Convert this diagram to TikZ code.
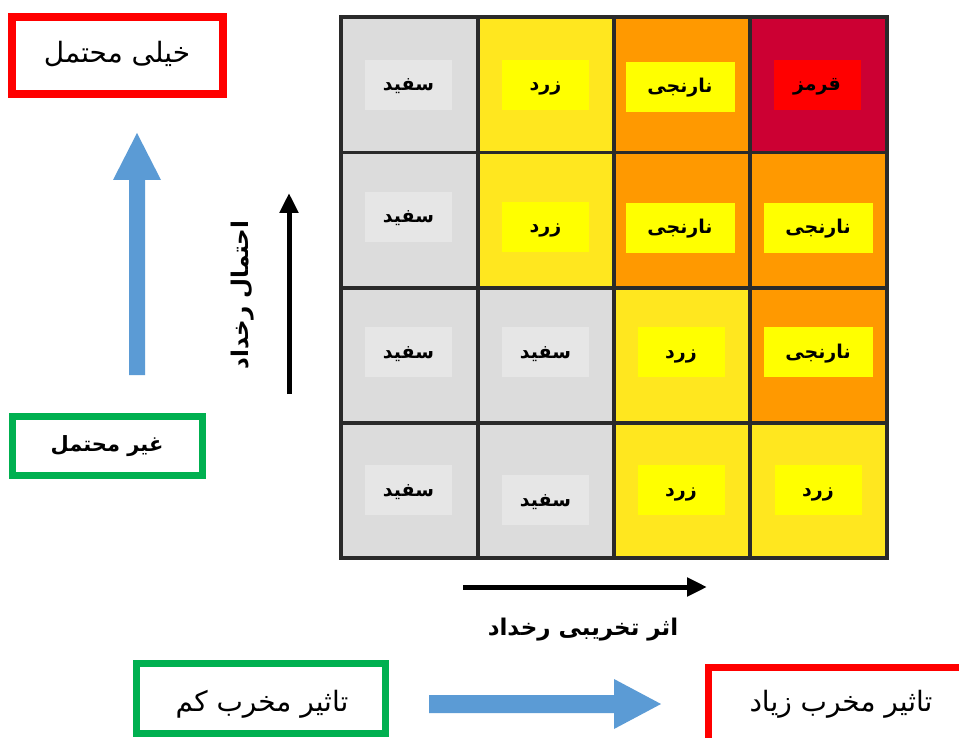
\documentclass[tikz,border=0pt]{standalone}
\usepackage{fontspec}
\newfontfamily\ar[Script=Arabic]{DejaVu Sans}
\TeXXeTstate=1
\usetikzlibrary{arrows.meta}
\definecolor{gridc}{HTML}{2A2A2A}
\definecolor{cgrey}{HTML}{DCDCDC}
\definecolor{lgrey}{HTML}{E6E6E6}
\definecolor{cyel}{HTML}{FFE71F}
\definecolor{lyel}{HTML}{FFFF00}
\definecolor{corg}{HTML}{FF9900}
\definecolor{cred}{HTML}{CC0033}
\definecolor{lred}{HTML}{FF0000}
\definecolor{bblue}{HTML}{5B9BD5}
\definecolor{bgreen}{HTML}{00B050}
\newcommand{\fa}[1]{\beginR #1\endR}
\begin{document}
\begin{tikzpicture}[x=1pt,y=-1pt,
  cellbox/.style={draw=gridc,line width=3.5pt},
  lab/.style={minimum width=87pt,minimum height=50pt,inner sep=0pt,text height=14pt,text depth=2pt,font=\ar\bfseries\fontsize{19}{22}\selectfont},
  labw/.style={lab,minimum width=109pt},
  framebox/.style={line width=7pt,inner sep=0pt},
  plain/.style={font=\ar\fontsize{28}{32}\selectfont,inner sep=0pt},
  bold/.style={font=\ar\bfseries\fontsize{23}{27}\selectfont,inner sep=0pt},
  blackarrow/.style={line width=5pt,-{Triangle[length=20pt,width=18pt]}}]
\useasboundingbox (0,0) rectangle (959,738);
\fill[white] (0,0) rectangle (959,738);
% grid
\fill[gridc] (341,17) rectangle (887,558);
% row 0
\draw[cellbox,fill=cgrey] (341,17) rectangle (478,152.5);
\draw[cellbox,fill=cyel] (478,17) rectangle (614,152.5);
\draw[cellbox,fill=corg] (614,17) rectangle (750,152.5);
\draw[cellbox,fill=cred] (750,17) rectangle (887,152.5);
% row 1
\draw[cellbox,fill=cgrey] (341,152.5) rectangle (478,288);
\draw[cellbox,fill=cyel] (478,152.5) rectangle (614,288);
\draw[cellbox,fill=corg] (614,152.5) rectangle (750,288);
\draw[cellbox,fill=corg] (750,152.5) rectangle (887,288);
% row 2
\draw[cellbox,fill=cgrey] (341,288) rectangle (478,423);
\draw[cellbox,fill=cgrey] (478,288) rectangle (614,423);
\draw[cellbox,fill=cyel] (614,288) rectangle (750,423);
\draw[cellbox,fill=corg] (750,288) rectangle (887,423);
% row 3
\draw[cellbox,fill=cgrey] (341,423) rectangle (478,558);
\draw[cellbox,fill=cgrey] (478,423) rectangle (614,558);
\draw[cellbox,fill=cyel] (614,423) rectangle (750,558);
\draw[cellbox,fill=cyel] (750,423) rectangle (887,558);
% labels row 0
\node[lab,fill=lgrey] (l00) at (408.5,85) {\fa{سفید}};
\node[lab,fill=lyel] (l01) at (545.5,85) {\fa{زرد}};
\node[labw,fill=lyel] (l02) at (680,87) {\fa{نارنجی}};
\node[lab,fill=lred] (l03) at (817,85) {\fa{قرمز}};
% labels row 1
\node[lab,fill=lgrey] (l10) at (408.5,217) {\fa{سفید}};
\node[lab,fill=lyel] (l11) at (545.5,227) {\fa{زرد}};
\node[labw,fill=lyel] (l12) at (680,228) {\fa{نارنجی}};
\node[labw,fill=lyel] (l13) at (818,228) {\fa{نارنجی}};
% labels row 2
\node[lab,fill=lgrey] (l20) at (408.5,352) {\fa{سفید}};
\node[lab,fill=lgrey] (l21) at (545.5,352) {\fa{سفید}};
\node[lab,fill=lyel] (l22) at (681,352) {\fa{زرد}};
\node[labw,fill=lyel] (l23) at (818,352) {\fa{نارنجی}};
% labels row 3
\node[lab,fill=lgrey] (l30) at (408.5,490) {\fa{سفید}};
\node[lab,fill=lgrey] (l31) at (545.5,500) {\fa{سفید}};
\node[lab,fill=lyel] (l32) at (681,490) {\fa{زرد}};
\node[lab,fill=lyel] (l33) at (818,490) {\fa{زرد}};
% axis arrows
\coordinate (vbot) at (289,394);
\coordinate (vtop) at (289,193);
\draw[blackarrow] (vbot) -- (vtop);
\node[bold,rotate=90] (vlab) at (243,295) {\fa{احتمال رخداد}};
\coordinate (hleft) at (463,587);
\coordinate (hright) at (707,587);
\draw[blackarrow] (hleft) -- (hright);
\node[bold] (hlab) at (583,630) {\fa{اثر تخریبی رخداد}};
% left side
\node[framebox,draw=lred,minimum width=211pt,minimum height=77pt,line width=8pt] (likely) at (117.5,55.5) {};
\node[plain] (likelyt) at (117,54) {\fa{خیلی محتمل}};
\fill[bblue] (129,375) -- (129,180) -- (113,180) -- (137,133) -- (161,180) -- (145,180) -- (145,375) -- cycle;
\node[framebox,draw=bgreen,minimum width=190pt,minimum height=59pt] (unlikely) at (107.5,446) {};
\node[bold,font=\ar\bfseries\fontsize{21}{25}\selectfont] (unlikelyt) at (107,446) {\fa{غیر محتمل}};
% bottom
\node[framebox,draw=bgreen,minimum width=249pt,minimum height=70pt] (lowimp) at (261,698.5) {};
\node[plain] (lowimpt) at (262,704) {\fa{تاثیر مخرب کم}};
\fill[bblue] (429,695) -- (614,695) -- (614,679) -- (661,704) -- (614,729) -- (614,713) -- (429,713) -- cycle;
\begin{scope}
\clip (0,0) rectangle (959,738);
\draw[lred,line width=7pt] (980,667.5) -- (708.5,667.5) -- (708.5,760);
\end{scope}
\node[plain] (highimpt) at (841,704) {\fa{تاثیر مخرب زیاد}};
\end{tikzpicture}
\end{document}
